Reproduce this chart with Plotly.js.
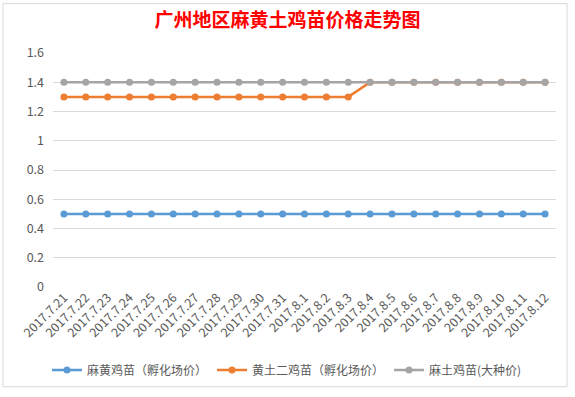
<!DOCTYPE html>
<html>
<head>
<meta charset="utf-8">
<script src="https://cdn.plot.ly/plotly-3.0.1.min.js"></script>
<style>
html,body{margin:0;padding:0;background:#fff;}
#chart{width:575px;height:397px;}
</style>
</head>
<body>
<div id="chart"></div>
<script>
const dates = ["2017.7.21","2017.7.22","2017.7.23","2017.7.24","2017.7.25","2017.7.26","2017.7.27","2017.7.28","2017.7.29","2017.7.30","2017.7.31","2017.8.1","2017.8.2","2017.8.3","2017.8.4","2017.8.5","2017.8.6","2017.8.7","2017.8.8","2017.8.9","2017.8.10","2017.8.11","2017.8.12"];
const mahuang = [0.5,0.5,0.5,0.5,0.5,0.5,0.5,0.5,0.5,0.5,0.5,0.5,0.5,0.5,0.5,0.5,0.5,0.5,0.5,0.5,0.5,0.5,0.5];
const huangtuEr = [1.3,1.3,1.3,1.3,1.3,1.3,1.3,1.3,1.3,1.3,1.3,1.3,1.3,1.3,1.4,1.4,1.4,1.4,1.4,1.4,1.4,1.4,1.4];
const matu = [1.4,1.4,1.4,1.4,1.4,1.4,1.4,1.4,1.4,1.4,1.4,1.4,1.4,1.4,1.4,1.4,1.4,1.4,1.4,1.4,1.4,1.4,1.4];
const seriesNames = ["麻黄鸡苗（孵化场价）","黄土二鸡苗（孵化场价）","麻土鸡苗(大种价)"];
const colors = ["#5B9BD5","#ED7D31","#A5A5A5"];
const yTicks = [0,0.2,0.4,0.6,0.8,1,1.2,1.4,1.6];
const yTickText = ["0","0.2","0.4","0.6","0.8","1","1.2","1.4","1.6"];

const font = "'Microsoft YaHei','Noto Sans CJK SC',sans-serif";
const vals = [mahuang, huangtuEr, matu];
const traces = vals.map((v,i)=>({
  x: dates, y: v, name: seriesNames[i], type:'scatter', mode:'lines+markers',
  line:{color:colors[i], width:2.5}, marker:{color:colors[i], size:7}
}));

const L=53, R=556, T=53, B=290;
const px = x => (x-L)/(R-L);
const py = y => (B-y)/(B-T);

const layout = {
  width:575, height:397,
  margin:{l:L, r:575-R, t:T, b:397-B, pad:0},
  paper_bgcolor:'#ffffff', plot_bgcolor:'#ffffff',
  font:{family:font, color:'#595959', size:12},
  title:{text:'广州地区麻黄土鸡苗价格走势图', font:{family:font, size:19, color:'#FF0000', weight:'bold'}, x:0.5, xanchor:'center', y:0.948, yanchor:'middle'},
  xaxis:{type:'category', range:[-0.5,22.5], tickangle:-45, showgrid:false, zeroline:false, showline:false, ticks:'', tickfont:{size:12.5, color:'#595959', family:font}, fixedrange:true},
  yaxis:{range:[0,1.6], tickvals:yTicks, ticktext:yTickText, showgrid:true, gridcolor:'#D9D9D9', gridwidth:1, zeroline:false, showline:false, ticks:'', ticklabelstandoff:8, tickfont:{size:12.5, color:'#595959', family:font}, fixedrange:true},
  showlegend:true,
  legend:{orientation:'h', x:px(287), xanchor:'center', y:py(374), yanchor:'middle', font:{size:12, color:'#595959', family:font}, bgcolor:'rgba(0,0,0,0)', itemwidth:30, tracegroupgap:0},
  shapes:[
    {type:'rect', xref:'paper', yref:'paper', x0:px(3), x1:px(567), y0:py(391), y1:py(3), line:{color:'#D9D9D9', width:1}, fillcolor:'rgba(0,0,0,0)', layer:'below'}
  ]
};
Plotly.newPlot('chart', traces, layout, {displayModeBar:false, staticPlot:true});
</script>
</body>
</html>
